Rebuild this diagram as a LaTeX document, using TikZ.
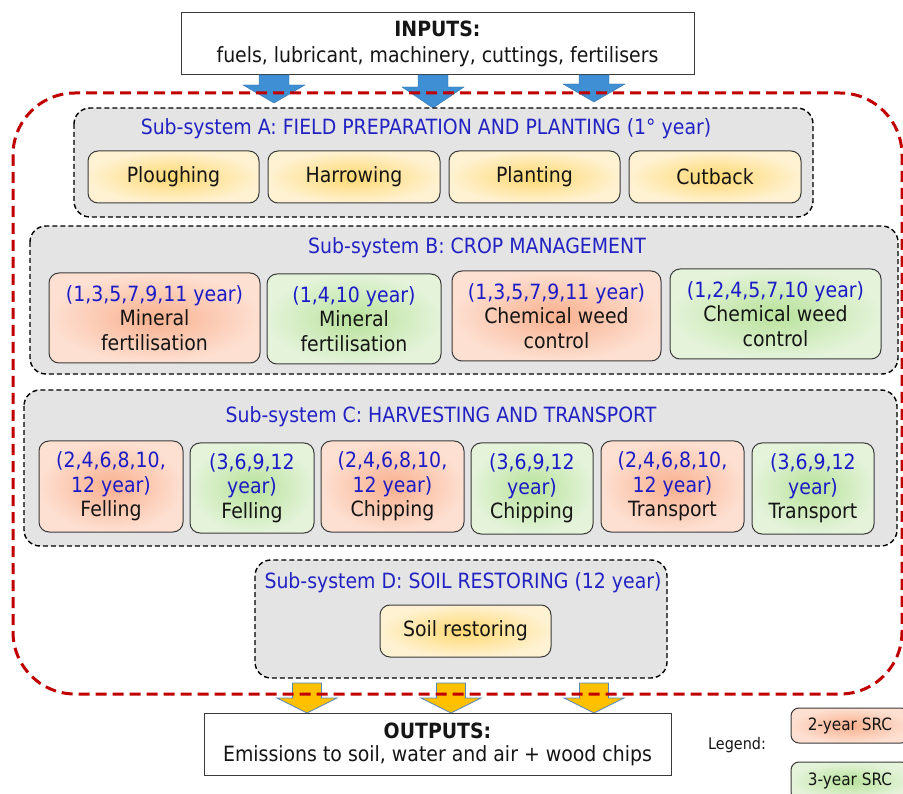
\documentclass[tikz,border=0pt]{standalone}
\usepackage{fontspec}
\setmainfont{DejaVu Sans}[FakeStretch=0.9]
\usetikzlibrary{shadings}
\definecolor{subgray}{HTML}{E4E4E4}
\definecolor{redline}{HTML}{C00000}
\definecolor{titleblue}{HTML}{2222C4}
\definecolor{yearblue}{HTML}{1A1AC8}
\definecolor{yelin}{HTML}{FFD870}
\definecolor{yelout}{HTML}{FFF2D2}
\definecolor{redin}{HTML}{F9B08E}
\definecolor{redout}{HTML}{FDE0D2}
\definecolor{grnin}{HTML}{B8E29A}
\definecolor{grnout}{HTML}{E4F3DA}
\definecolor{arrblue}{HTML}{3E8FD4}
\definecolor{arryel}{HTML}{FFC000}
\definecolor{arredge}{HTML}{5A86BE}
\definecolor{boxline}{HTML}{3A3A3A}
\definecolor{txt}{HTML}{151515}
\tikzset{
  plainbox/.style={draw=boxline, line width=1pt, fill=white, inner sep=0pt, align=center, text=txt},
  subbox/.style={draw=black, dash pattern=on 5pt off 3pt, line width=1.4pt, fill=subgray, rounded corners=16pt},
  subtitle/.style={text=titleblue, inner sep=0pt},
  actbase/.style={draw=boxline, line width=1pt, rounded corners=10pt, inner sep=0pt, align=center, text=txt},
  yelbox/.style={actbase, inner color=yelin, outer color=yelout},
  redbox/.style={actbase, inner color=redin, outer color=redout},
  grnbox/.style={actbase, inner color=grnin, outer color=grnout},
  bluearr/.style={fill=arrblue, draw=arrblue!80!black, line width=0.4pt},
  yelarr/.style={fill=arryel, draw=arredge, line width=0.8pt},
  reddash/.style={draw=redline, line width=3pt, dash pattern=on 11pt off 6pt, rounded corners=62pt}
}
\newcommand{\yb}[1]{\textcolor{yearblue}{#1}}
\begin{document}
\begin{tikzpicture}[x=1pt,y=-1pt, font=\fontsize{21}{24.5}\selectfont]
\clip (0,0) rectangle (903,794);
\fill[white] (0,0) rectangle (903,794);

% inputs
\node[plainbox, minimum width=513, minimum height=62, font=\fontsize{21}{26}\selectfont] (inputs) at (437.5,44)
  {\textbf{INPUTS:}\\fuels, lubricant, machinery, cuttings, fertilisers};

% blue arrows
\filldraw[bluearr] (259,75) -- (289,75) -- (289,85) -- (305,85) -- (274,103) -- (243,85) -- (259,85) -- cycle;
\filldraw[bluearr] (418,75) -- (448,75) -- (448,87) -- (464,87) -- (433,108) -- (402,87) -- (418,87) -- cycle;
\filldraw[bluearr] (579,75) -- (609,75) -- (609,84) -- (625,84) -- (594,102) -- (563,84) -- (579,84) -- cycle;

% yellow arrows
\foreach \cx in {307,451,594}{
  \filldraw[yelarr] (\cx-14.5,683) -- (\cx+14.5,683) -- (\cx+14.5,698) -- (\cx+30,698) -- (\cx,713) -- (\cx-30,698) -- (\cx-14.5,698) -- cycle;
}

% system boundary
\draw[reddash] (13,93) rectangle (902,694);

% Sub-system A
\draw[subbox] (74,108) rectangle (813,217);
\node[subtitle] (tA) at (426,129) {Sub-system A: FIELD PREPARATION AND PLANTING (1° year)};
\node[yelbox, minimum width=171, minimum height=52] (a1) at (173.5,177) {Ploughing};
\node[yelbox, minimum width=172, minimum height=52] (a2) at (354,177) {Harrowing};
\node[yelbox, minimum width=171, minimum height=52] (a3) at (534.5,177) {Planting};
\node[yelbox, minimum width=172, minimum height=52] (a4) at (715,177) {Cutback};

% Sub-system B
\draw[subbox] (30,226) rectangle (898,374);
\node[subtitle] (tB) at (477,248) {Sub-system B: CROP MANAGEMENT};
\node[redbox, minimum width=211, minimum height=90] (b1) at (154.5,318) {\yb{(1,3,5,7,9,11 year)}\\Mineral\\fertilisation};
\node[grnbox, minimum width=174, minimum height=90] (b2) at (354,319) {\yb{(1,4,10 year)}\\Mineral\\fertilisation};
\node[redbox, minimum width=209, minimum height=90] (b3) at (556.5,316) {\yb{(1,3,5,7,9,11 year)}\\Chemical weed\\control};
\node[grnbox, minimum width=211, minimum height=90] (b4) at (775.5,314) {\yb{(1,2,4,5,7,10 year)}\\Chemical weed\\control};

% Sub-system C
\draw[subbox] (24,390) rectangle (897,546);
\node[subtitle] (tC) at (441,417) {Sub-system C: HARVESTING AND TRANSPORT};
\node[redbox, minimum width=144, minimum height=91] (c1) at (111,486.5) {\yb{(2,4,6,8,10,}\\\yb{12 year)}\\Felling};
\node[grnbox, minimum width=124, minimum height=90] (c2) at (252,488) {\yb{(3,6,9,12}\\\yb{year)}\\Felling};
\node[redbox, minimum width=143, minimum height=91] (c3) at (392.5,486.5) {\yb{(2,4,6,8,10,}\\\yb{12 year)}\\Chipping};
\node[grnbox, minimum width=122, minimum height=91] (c4) at (532,488.5) {\yb{(3,6,9,12}\\\yb{year)}\\Chipping};
\node[redbox, minimum width=143, minimum height=91] (c5) at (672.5,486.5) {\yb{(2,4,6,8,10,}\\\yb{12 year)}\\Transport};
\node[grnbox, minimum width=122, minimum height=91] (c6) at (813,488.5) {\yb{(3,6,9,12}\\\yb{year)}\\Transport};

% Sub-system D
\draw[subbox] (255,560) rectangle (667,678);
\node[subtitle] (tD) at (463,583) {Sub-system D: SOIL RESTORING (12 year)};
\node[yelbox, minimum width=171, minimum height=52] (d1) at (465.5,631) {Soil restoring};

% outputs
\node[plainbox, minimum width=467, minimum height=62, font=\fontsize{21}{23}\selectfont] (outputs) at (437.5,744)
  {\textbf{OUTPUTS:}\\Emissions to soil, water and air + wood chips};

% legend
\node[text=txt, font=\fontsize{16}{20}\selectfont] (leg) at (737,745) {Legend:};
\node[redbox, rounded corners=8pt, minimum width=118, minimum height=35, font=\fontsize{17}{20}\selectfont] (l1) at (850,725.5) {2-year SRC};
\node[grnbox, rounded corners=8pt, minimum width=118, minimum height=38, font=\fontsize{17}{20}\selectfont] (l2) at (850,781) {3-year SRC};
\end{tikzpicture}
\end{document}
